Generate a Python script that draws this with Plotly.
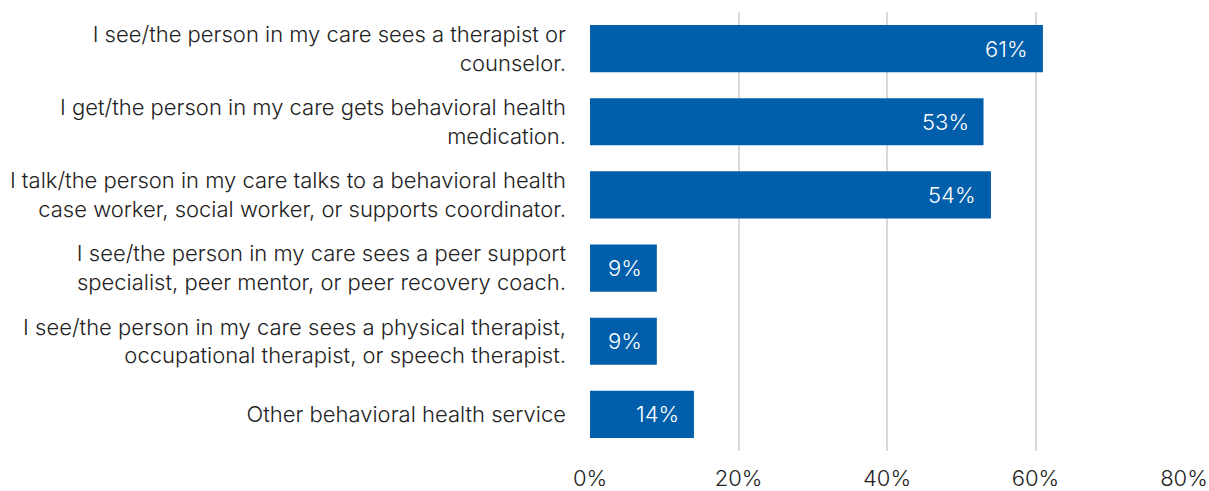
import plotly.graph_objects as go

categories = [
    "I see/the person in my care sees a therapist or<br>counselor.",
    "I get/the person in my care gets behavioral health<br>medication.",
    "I talk/the person in my care talks to a behavioral health<br>case worker, social worker, or supports coordinator.",
    "I see/the person in my care sees a peer support<br>specialist, peer mentor, or peer recovery coach.",
    "I see/the person in my care sees a physical therapist,<br>occupational therapist, or speech therapist.",
    "Other behavioral health service",
]
values = [61, 53, 54, 9, 9, 14]
tick_vals = [0, 20, 40, 60, 80]
tick_text = ["0%", "20%", "40%", "60%", "80%"]

FONT = "Inter, 'Liberation Sans', Arial, sans-serif"
BAR_COLOR = "#005EAA"
TEXT_COLOR = "#222222"
SIZE = 22
WEIGHT = 300

fig = go.Figure(
    go.Bar(
        y=categories,
        x=values,
        orientation="h",
        marker=dict(color=BAR_COLOR, line=dict(width=0)),
        hoverinfo="skip",
    )
)

# value labels sit inside each bar, just short of its end
for cat, val in zip(categories, values):
    fig.add_annotation(
        x=val, y=cat, xref="x", yref="y",
        text=f"{val}%", showarrow=False,
        xanchor="right", xshift=-13,
        font=dict(family=FONT, size=SIZE, color="white", weight=WEIGHT),
    )

fig.update_layout(
    width=1209, height=491,
    margin=dict(l=590, r=25, t=12, b=40),
    paper_bgcolor="white", plot_bgcolor="white",
    bargap=0.356,
    showlegend=False,
    font=dict(family=FONT, size=SIZE, color=TEXT_COLOR, weight=WEIGHT),
)
fig.update_xaxes(
    range=[0, 80], tickvals=tick_vals, ticktext=tick_text,
    showgrid=True, gridcolor="#D9D9D9", gridwidth=2,
    zeroline=False, showline=False,
    ticklabelstandoff=12, automargin=False,
    tickfont=dict(family=FONT, size=SIZE, color=TEXT_COLOR, weight=WEIGHT),
)
fig.update_yaxes(
    autorange="reversed", showgrid=False, zeroline=False, showline=False,
    ticklabelstandoff=23, automargin=False,
    tickfont=dict(family=FONT, size=SIZE, color=TEXT_COLOR, weight=WEIGHT),
)

fig.write_html("out.html")
